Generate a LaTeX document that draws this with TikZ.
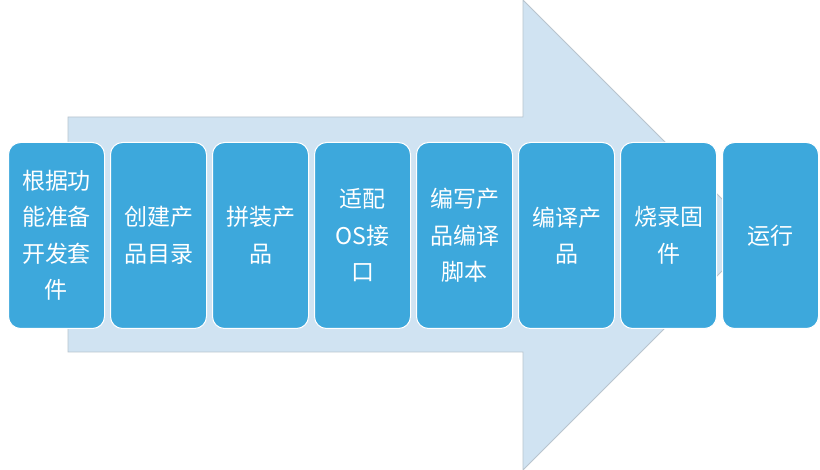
\documentclass[tikz,border=0pt]{standalone}
\usepackage{fontspec}
\newfontfamily\cjk{Noto Sans CJK SC}
\definecolor{boxblue}{HTML}{3DA8DC}
\definecolor{arrowfill}{HTML}{D0E3F2}
\definecolor{arrowline}{HTML}{B8C4CE}
\tikzset{
  stepbox/.style={draw=white, line width=1pt, fill=boxblue, rounded corners=12pt,
    minimum width=96pt, minimum height=186pt, inner sep=0pt,
    text=white, font=\cjk\fontsize{23}{36.5}\selectfont, align=center, anchor=north west}
}
\begin{document}
\begin{tikzpicture}[x=1pt,y=-1pt]
\useasboundingbox (0,0) rectangle (820,470);
\fill[white] (0,0) rectangle (820,470);
\draw[arrowline, fill=arrowfill, line width=0.8pt]
  (68,117) -- (523,117) -- (523,0) -- (758,235) -- (523,470) -- (523,352) -- (68,352) -- cycle;
\node[stepbox] (s1) at (8,142) {根据功\\能准备\\开发套\\件};
\node[stepbox] (s2) at (110,142) {创建产\\品目录};
\node[stepbox] (s3) at (212,142) {拼装产\\品};
\node[stepbox] (s4) at (314,142) {适配\\OS接\\口};
\node[stepbox] (s5) at (416,142) {编写产\\品编译\\脚本};
\node[stepbox] (s6) at (518,142) {编译产\\品};
\node[stepbox] (s7) at (620,142) {烧录固\\件};
\node[stepbox] (s8) at (722,142) {运行};
\end{tikzpicture}
\end{document}
